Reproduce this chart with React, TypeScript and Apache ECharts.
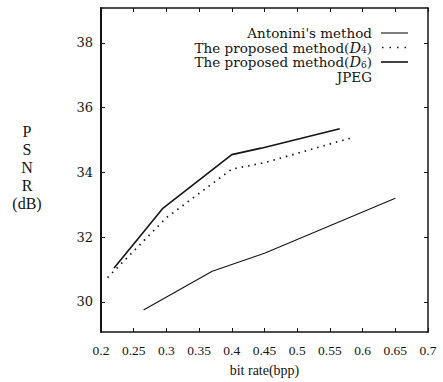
import React, { useEffect, useRef } from "react";
import * as echarts from "echarts";

// ---- data ----
const xTickValues = [0.2, 0.25, 0.3, 0.35, 0.4, 0.45, 0.5, 0.55, 0.6, 0.65, 0.7];
const yTickValues = [30, 32, 34, 36, 38];

const antonini: [number, number][] = [
  [0.265, 29.75],
  [0.37, 30.95],
  [0.45, 31.5],
  [0.65, 33.2],
];
const proposedD4: [number, number][] = [
  [0.21, 30.75],
  [0.3, 32.6],
  [0.4, 34.1],
  [0.45, 34.3],
  [0.585, 35.08],
];
const proposedD6: [number, number][] = [
  [0.22, 31.05],
  [0.295, 32.9],
  [0.4, 34.55],
  [0.445, 34.75],
  [0.565, 35.35],
];
const jpeg: [number, number][] = [];

const seriesNames = [
  "Antonini's method",
  "The proposed method(D4)",
  "The proposed method(D6)",
  "JPEG",
];

const FONT = "DejaVu Serif";
const FONT2 = "Liberation Serif";
const INK = "#141414";

export default function App() {
  const ref = useRef<HTMLDivElement>(null);

  useEffect(() => {
    if (!ref.current) return;
    const chart = echarts.init(ref.current, undefined, { renderer: "svg" });

    const gridLeft = 101;
    const gridTop = 8;
    const gridRight = 15;
    const gridBottom = 50;

    const legendTextX = 372;
    const legendRows = [33, 47.5, 62, 76.5];
    const sampleX1 = 381;
    const sampleX2 = 408;

    const richLegend = {
      d: { fontFamily: FONT, fontStyle: "italic", fontSize: 14.5, lineHeight: 14, fill: INK },
      s: { fontFamily: FONT, fontSize: 9, lineHeight: 14, fill: INK, verticalAlign: "bottom" },
      n: { fontFamily: FONT, fontSize: 13.5, lineHeight: 14, fill: INK },
    };

    const legendTexts = [
      "{n|" + seriesNames[0] + "}",
      "{n|The proposed method(}{d|D}{s|4}{n|)}",
      "{n|The proposed method(}{d|D}{s|6}{n|)}",
      "{n|" + seriesNames[3] + "}",
    ];

    const baseAxisLine = { lineStyle: { color: INK, width: 1.5 } };

    chart.setOption({
      animation: false,
      backgroundColor: "#ffffff",
      grid: {
        left: gridLeft,
        top: gridTop,
        right: gridRight,
        bottom: gridBottom,
        show: false,
      },
      xAxis: [
        {
          type: "value",
          min: 0.2,
          max: 0.7,
          interval: 0.05,
          position: "bottom",
          name: "bit rate(bpp)",
          nameLocation: "middle",
          nameGap: 31,
          nameTextStyle: { fontFamily: FONT2, fontSize: 14, color: INK },
          axisLine: baseAxisLine,
          axisTick: { show: true, inside: true, length: 4, lineStyle: { color: INK, width: 1 } },
          axisLabel: {
            show: true,
            fontFamily: FONT2,
            fontSize: 13.5,
            color: INK,
            margin: 11,
            showMinLabel: true,
            showMaxLabel: true,
            hideOverlap: false,
            customValues: xTickValues,
            formatter: (v: number) => String(Math.round(v * 100) / 100),
          },
          splitLine: { show: false },
        },
        {
          type: "value",
          min: 0.2,
          max: 0.7,
          interval: 0.05,
          position: "top",
          axisLine: baseAxisLine,
          axisTick: { show: true, inside: true, length: 4, lineStyle: { color: INK, width: 1 } },
          axisLabel: { show: false },
          splitLine: { show: false },
        },
      ],
      yAxis: [
        {
          type: "value",
          min: 29.07,
          max: 39.08,
          position: "left",
          axisLine: { show: true, lineStyle: { color: INK, width: 2 } },
          axisTick: {
            show: true,
            inside: true,
            length: 4,
            customValues: yTickValues,
            lineStyle: { color: INK, width: 1 },
          },
          axisLabel: {
            show: true,
            fontFamily: FONT,
            fontSize: 13,
            color: INK,
            margin: 8,
            customValues: yTickValues,
          },
          splitLine: { show: false },
        },
        {
          type: "value",
          min: 29.07,
          max: 39.08,
          position: "right",
          axisLine: baseAxisLine,
          axisTick: {
            show: true,
            inside: true,
            length: 4,
            customValues: yTickValues,
            lineStyle: { color: INK, width: 1 },
          },
          axisLabel: { show: false },
          splitLine: { show: false },
        },
      ],
      series: [
        {
          name: seriesNames[0],
          type: "line",
          data: antonini,
          symbol: "none",
          lineStyle: { color: INK, width: 1.1 },
        },
        {
          name: seriesNames[1],
          type: "line",
          data: proposedD4,
          symbol: "none",
          lineStyle: { color: INK, width: 1.7, type: [1.5, 5] },
        },
        {
          name: seriesNames[2],
          type: "line",
          data: proposedD6,
          symbol: "none",
          lineStyle: { color: INK, width: 1.6 },
        },
        {
          name: seriesNames[3],
          type: "line",
          data: jpeg,
          symbol: "none",
          lineStyle: { color: INK, width: 1 },
        },
      ],
      graphic: [
        ...legendTexts.map((t, i) => ({
          type: "text",
          x: legendTextX,
          y: legendRows[i],
          style: {
            text: t,
            rich: richLegend,
            font: "13.5px " + FONT,
            align: "right",
            verticalAlign: "middle",
            fill: INK,
          },
        })),
        {
          type: "line",
          shape: { x1: sampleX1, y1: legendRows[0], x2: sampleX2, y2: legendRows[0] },
          style: { stroke: INK, lineWidth: 1.1 },
        },
        {
          type: "line",
          shape: { x1: sampleX1 + 1, y1: legendRows[1], x2: sampleX2, y2: legendRows[1] },
          style: { stroke: INK, lineWidth: 1.7, lineDash: [1.5, 6] },
        },
        {
          type: "line",
          shape: { x1: sampleX1, y1: legendRows[2], x2: sampleX2, y2: legendRows[2] },
          style: { stroke: INK, lineWidth: 1.6 },
        },
        {
          type: "text",
          x: 27,
          y: 167,
          style: {
            text: "P\nS\nN\nR\n(dB)",
            fontFamily: FONT2,
            fontSize: 16,
            lineHeight: 18,
            align: "center",
            verticalAlign: "middle",
            fill: INK,
          },
        },
      ],
    });

    return () => chart.dispose();
  }, []);

  return <div ref={ref} style={{ width: 443, height: 382, position: "absolute", left: 0, top: 0 }} />;
}
